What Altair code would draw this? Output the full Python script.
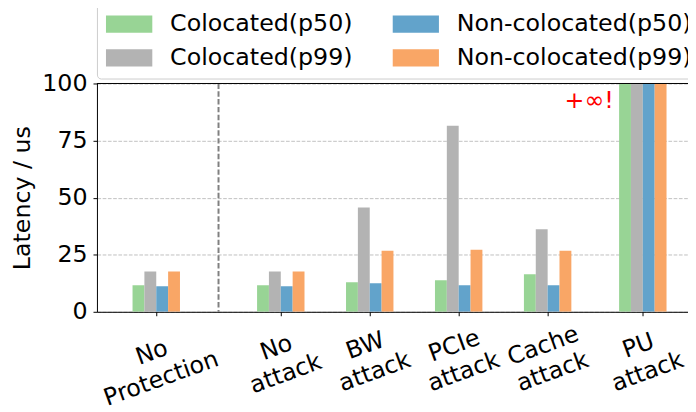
import json
import altair as alt
import pandas as pd

# ---- data ----
groups = ["No\nProtection", "No\nattack", "BW\nattack", "PCIe\nattack", "Cache\nattack", "PU\nattack"]
positions = [0, 1.4, 2.4, 3.4, 4.4, 5.47]
series = ["Colocated(p50)", "Colocated(p99)", "Non-colocated(p50)", "Non-colocated(p99)"]
colors = ["#98d495", "#b3b3b3", "#62a3cb", "#f9a666"]
INF = 1000.0  # "+inf" bars, clipped at the top of the axis
coloc_p50 = [11.6, 11.6, 12.9, 13.8, 16.4, INF]
coloc_p99 = [17.7, 17.7, 45.7, 81.5, 36.2, INF]
noncoloc_p50 = [11.2, 11.2, 12.5, 11.6, 11.6, INF]
noncoloc_p99 = [17.7, 17.7, 26.7, 27.2, 26.7, INF]
y_ticks = [0, 25, 50, 75, 100]
divider_x = 0.7
annot_text = "+\u221e!"
annot_x, annot_y = 4.59, 89.2

values = [coloc_p50, coloc_p99, noncoloc_p50, noncoloc_p99]
BW = 0.1333
rows = []
for si, (name, vals) in enumerate(zip(series, values)):
    for gi, (pos, v) in enumerate(zip(positions, vals)):
        rows.append({"series": name, "x0": pos + (si - 2) * BW,
                     "x1": pos + (si - 1) * BW, "value": v})
df = pd.DataFrame(rows)

label_arrays = [g.split("\n") for g in groups]
label_expr = f"{json.dumps(label_arrays)}[indexof({json.dumps(positions)}, datum.value)]"
# wide rotated labels sit lower (their rotated box top rises), as in the reference
label_pad_expr = "datum.value == 0 ? 26 : (datum.value == 1.4 ? 21 : 19)"

xscale = alt.Scale(domain=[-0.6667, 5.978], nice=False, zero=False)
yscale = alt.Scale(domain=[0, 100], nice=False)

bars = alt.Chart(df).mark_bar(clip=True).encode(
    x=alt.X("x0:Q", scale=xscale, axis=alt.Axis(
        values=positions, labelExpr=label_expr, title=None, grid=False,
        labelAngle=-20, labelAlign="center", labelBaseline="top",
        labelLineHeight=28, labelFontSize=24, labelColor="black",
        labelPadding={"expr": label_pad_expr}, labelOffset=-9,
        labelOverlap=False, labelFlush=False,
        labelBound=False, tickColor="black", tickSize=4, domainColor="black",
        domainWidth=1)),
    x2="x1:Q",
    y=alt.Y("value:Q", scale=yscale, axis=alt.Axis(
        values=y_ticks, title="Latency / us", titleFontSize=24,
        titleFontWeight="normal", titleColor="black", titlePadding=7,
        labelFontSize=24, labelColor="black", labelPadding=6,
        tickColor="black", tickSize=4, domainColor="black", domainWidth=1,
        grid=True, gridColor="#b0b0b0", gridDash=[3.7, 1.6], gridWidth=0.8)),
    y2=alt.datum(0),
    color=alt.Color("series:N", scale=alt.Scale(domain=series, range=colors),
                    legend=alt.Legend(
                        title=None, orient="none", legendX=0, legendY=-81,
                        columns=2, columnPadding=40, rowPadding=10,
                        clipHeight=24,
                        symbolType="M-1,-0.37H1V0.37H-1Z", symbolSize=2209,
                        symbolStrokeWidth=0, symbolOpacity=1, labelOffset=18,
                        labelFontSize=24, labelColor="black", labelLimit=400,
                        padding=9, fillColor="white", strokeColor="#cccccc",
                        cornerRadius=4)),
)

divider = alt.Chart(pd.DataFrame({"x": [divider_x]})).mark_rule(
    color="#808080", strokeWidth=2, strokeDash=[5.5, 2.4]).encode(x=alt.X("x:Q", scale=xscale))

top_spine = alt.Chart(pd.DataFrame({"y": [y_ticks[-1]]})).mark_rule(
    color="black", strokeWidth=1).encode(y=alt.Y("y:Q", scale=yscale))

annot = alt.Chart(pd.DataFrame({"x": [annot_x], "y": [annot_y], "t": [annot_text]})).mark_text(
    align="left", baseline="alphabetic", fontSize=24, color="red").encode(
    x=alt.X("x:Q", scale=xscale), y=alt.Y("y:Q", scale=yscale), text="t:N")

chart = alt.layer(bars, divider, top_spine, annot).properties(
    width=598, height=231,
    autosize=alt.AutoSizeParams(type="none"),
    padding={"left": 90, "top": 74, "right": 0, "bottom": 99},
).configure(font="DejaVu Sans").configure_view(stroke="transparent")

chart.save("out.html", embed_options={"renderer": "svg", "actions": False})
